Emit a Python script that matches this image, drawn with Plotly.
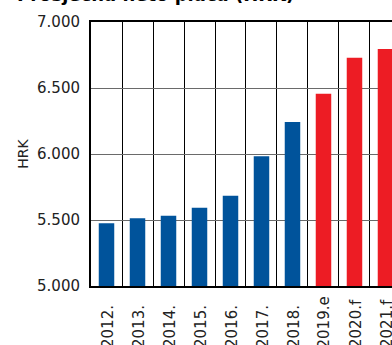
import plotly.graph_objects as go

categories = ["2012.", "2013.", "2014.", "2015.", "2016.", "2017.", "2018.", "2019.e", "2020.f", "2021.f"]
values = [5475, 5513, 5533, 5593, 5684, 5983, 6242, 6457, 6730, 6795]
is_forecast = [False, False, False, False, False, False, False, True, True, True]
title_text = "Prosječna neto plaća (HRK)"
y_title = "HRK"

BLUE = "#00539B"
RED = "#ED1C24"
colors = [RED if f else BLUE for f in is_forecast]

fig = go.Figure(go.Bar(x=categories, y=values, marker=dict(color=colors, line=dict(width=0)),
                       showlegend=False))

FONT = "DejaVu Sans"
TXT = "#222222"
PLOT_H = 264
fig.update_layout(
    width=392, height=345,
    margin=dict(l=91, r=0, t=22, b=59, autoexpand=False),
    paper_bgcolor="white", plot_bgcolor="white",
    separators=",.",
    bargap=0.5,
    font=dict(family=FONT, color=TXT),
)
fig.update_xaxes(
    type="category", range=[-0.5, 9.21], tickson="boundaries",
    showgrid=True, gridcolor="black", gridwidth=1,
    showline=True, linecolor="black", linewidth=2, mirror=True,
    ticks="", showticklabels=False,
    automargin=False,
)
fig.update_yaxes(
    range=[5000, 7000], dtick=500, tickformat=",",
    showgrid=True, gridcolor="#6a6a6a", gridwidth=1,
    showline=True, linecolor="black", linewidth=2,
    ticks="outside", ticklen=6, tickcolor="rgba(0,0,0,0)",
    tickfont=dict(size=15, family=FONT, color=TXT),
    title=dict(text=y_title, font=dict(size=14, family=FONT, color=TXT), standoff=5),
    automargin=False, zeroline=False,
)
# category labels, rotated and bottom-aligned (as in the reference)
for i, c in enumerate(categories):
    fig.add_annotation(text=c, x=i, xref="x", yref="paper", y=-(350 - 286) / PLOT_H,
                       yanchor="bottom", xanchor="center", xshift=1, textangle=-90,
                       showarrow=False, font=dict(size=15, family=FONT, color=TXT))

fig.add_annotation(text="<b>" + title_text + "</b>", xref="paper", yref="paper",
                   x=-91/301 + 15/301, xanchor="left", y=1 + 15/PLOT_H, yanchor="bottom",
                   showarrow=False, font=dict(size=18, family=FONT, color="black"))

fig.write_html("out.html")
